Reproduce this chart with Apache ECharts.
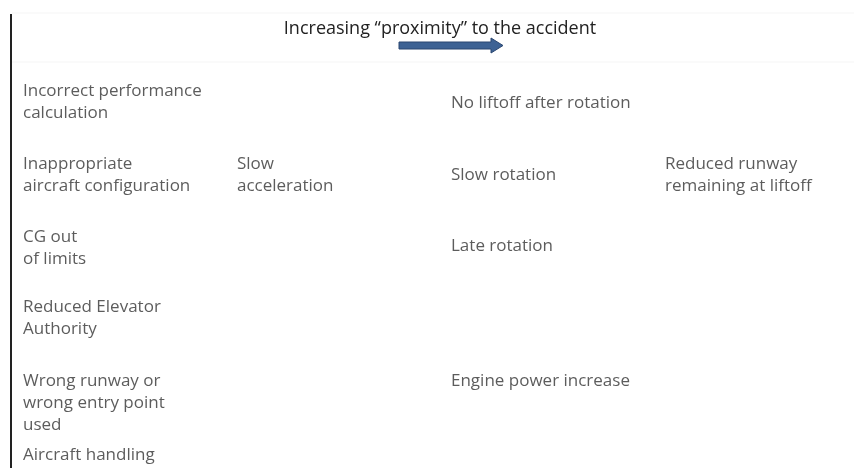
<!DOCTYPE html>
<html>
<head>
<meta charset="utf-8">
<script src="https://cdn.jsdelivr.net/npm/echarts@6/dist/echarts.min.js"></script>
<style>
  html, body { margin: 0; padding: 0; background: #fff; }
  #chart { width: 854px; height: 468px; }
</style>
</head>
<body>
<div id="chart"></div>
<script>
// column positions along the "proximity" axis
var columnX = [23, 237, 451, 665]

// text blocks per column, with the y of each block's centre
var col1Text = [
  'Incorrect performance\ncalculation',
  'Inappropriate\naircraft configuration',
  'CG out\nof limits',
  'Reduced Elevator\nAuthority',
  'Wrong runway or\nwrong entry point\nused',
  'Aircraft handling'
]
var col1Rows = [102, 175, 248, 318, 403, 455]

var col2Text = ['Slow\nacceleration']
var col2Rows = [175]

var col3Text = ['No liftoff after rotation', 'Slow rotation', 'Late rotation', 'Engine power increase']
var col3Rows = [103, 175, 246, 381]

var col4Text = ['Reduced runway\nremaining at liftoff']
var col4Rows = [175]

var titleText = 'Increasing \u201cproximity\u201d to the accident'

function toPoints(col, texts, rows) {
  return texts.map(function (t, i) {
    return [columnX[col], rows[i], t]
  })
}

function initDiagram() {
  var chart = echarts.init(document.getElementById('chart'))

  var data = []
    .concat(toPoints(0, col1Text, col1Rows))
    .concat(toPoints(1, col2Text, col2Rows))
    .concat(toPoints(2, col3Text, col3Rows))
    .concat(toPoints(3, col4Text, col4Rows))

  var option = {
    animation: false,
    title: {
      text: titleText,
      left: 435,
      top: 24,
      textAlign: 'center',
      textVerticalAlign: 'middle',
      textStyle: {
        fontFamily: 'Open Sans',
        fontSize: 18,
        fontWeight: 'normal',
        color: '#222',
      },
    },
    grid: { left: 0, right: 0, top: 0, bottom: 0 },
    xAxis: { type: 'value', min: 0, max: 854, show: false },
    yAxis: { type: 'value', min: 0, max: 468, inverse: true, show: false },
    series: [
      {
        type: 'scatter',
        symbolSize: 0,
        data: data,
        label: {
          show: true,
          position: [0, 0],
          align: 'left',
          verticalAlign: 'middle',
          fontFamily: 'Open Sans',
          fontSize: 17,
          lineHeight: 22,
          color: '#333',
          formatter: function (p) {
            return p.value[2]
          },
        },
      },
    ],
    graphic: [
      // faint guide lines
      { type: 'line', shape: { x1: 12, y1: 13, x2: 854, y2: 13 }, style: { stroke: '#f5f5f5', lineWidth: 1 } },
      { type: 'line', shape: { x1: 12, y1: 62, x2: 854, y2: 62 }, style: { stroke: '#f5f5f5', lineWidth: 1 } },
      // left border
      { type: 'line', shape: { x1: 11, y1: 14, x2: 11, y2: 468 }, style: { stroke: '#222', lineWidth: 2 } },
      // arrow
      {
        type: 'polygon',
        shape: {
          points: [[399, 42], [491, 42], [491, 38], [503, 45.5], [491, 53], [491, 49], [399, 49]],
        },
        style: { fill: '#3d6294', stroke: '#2a4670', lineWidth: 1 },
      },
    ],
  }
  chart.setOption(option)
}

initDiagram()
</script>
</body>
</html>
